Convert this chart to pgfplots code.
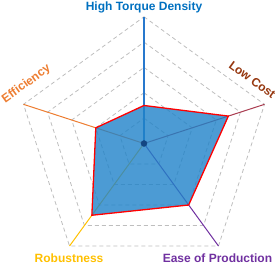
\documentclass[border=0pt]{standalone}
\usepackage{pgfplots}
\pgfplotsset{compat=1.18}
\usepgfplotslibrary{polar}
\usetikzlibrary{calc}
\usepackage{fontspec}
\setmainfont{Liberation Sans}
\definecolor{cHTD}{RGB}{0,112,192}
\definecolor{cHTDs}{RGB}{40,120,205}
\definecolor{cLC}{RGB}{150,55,15}
\definecolor{cLCs}{RGB}{170,60,80}
\definecolor{cEff}{RGB}{237,125,49}
\definecolor{cRob}{RGB}{255,192,0}
\definecolor{cEoP}{RGB}{112,48,160}
\definecolor{cFill}{RGB}{31,130,201}
\definecolor{cGrid}{RGB}{190,190,190}
\definecolor{cDot}{RGB}{20,70,130}
\tikzset{lbl/.style={font=\fontsize{12}{14}\selectfont\bfseries, inner sep=0pt}}
\begin{document}
\begin{tikzpicture}
\begin{polaraxis}[
  scale only axis, width=253.4pt, height=253.4pt,
  xmin=0, xmax=360, ymin=0, ymax=5,
  hide axis, clip=false,
]
% grid rings
\foreach \r in {1,2,3,4,5}{
  \edef\tmp{\noexpand\addplot[cGrid, line width=0.8pt, dash pattern=on 4pt off 3pt, mark=none] coordinates {(90,\r) (18,\r) (-54,\r) (-126,\r) (162,\r) (90,\r)};}
  \tmp
}
% spokes
\addplot[cHTDs, line width=1.2pt, mark=none] coordinates {(90,0) (90,5)};
\addplot[cLCs, line width=1pt, mark=none] coordinates {(18,0) (18,5)};
\addplot[cEoP, line width=1pt, mark=none] coordinates {(-54,0) (-54,5)};
\addplot[cRob, line width=1pt, mark=none] coordinates {(-126,0) (-126,5)};
\addplot[cEff, line width=1pt, mark=none] coordinates {(162,0) (162,5)};
% data
\addplot[fill=cFill, fill opacity=0.8, draw=red, line width=1.3pt, mark=none] coordinates {(90,1.5) (18,3.5) (-54,3) (-126,3.5) (162,2) (90,1.5)};
\addplot[only marks, mark=*, mark size=3pt, cDot] coordinates {(0,0)};
% labels
\node[lbl, text=cHTD] at (axis cs:90,5.36) {High Torque Density};
\node[lbl, text=cLC, rotate=-36] at (axis cs:30.5,4.96) {Low Cost};
\node[lbl, text=cEff, rotate=36] at (axis cs:153.2,5.2) {Efficiency};
\node[lbl, text=cRob] at (axis cs:-123.2,5.4) {Robustness};
\node[lbl, text=cEoP] at (axis cs:-57.4,5.38) {Ease of Production};
\coordinate (C) at (axis cs:0,0);
\end{polaraxis}
\pgfresetboundingbox
\path[use as bounding box] ($(C)+(-144pt,-120.5pt)$) rectangle ($(C)+(132pt,143.5pt)$);
\end{tikzpicture}
\end{document}
